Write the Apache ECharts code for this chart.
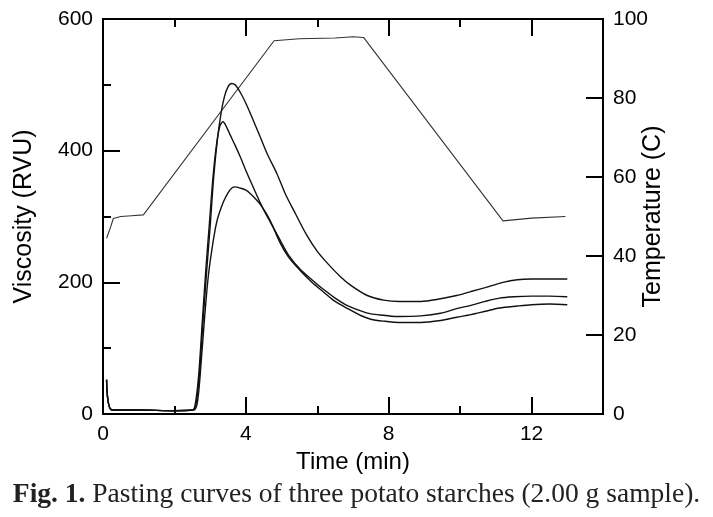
<!DOCTYPE html>
<html>
<head>
<meta charset="utf-8">
<title>Pasting curves</title>
<script src="https://cdn.jsdelivr.net/npm/echarts@6/dist/echarts.min.js"></script>
<style>
html, body { margin: 0; padding: 0; background: #fff; }
#main { width: 713px; height: 517px; }
</style>
</head>
<body>
<div id="main"></div>
<script>
// temperature profile (C), right axis
var tempTime = [0.1, 0.2, 0.29, 0.5, 0.8, 1.13, 4.79, 5.5, 6.5, 7.0, 7.3, 11.2, 12.0, 12.95];
var tempValue = [44.5, 47, 49.5, 50, 50.2, 50.4, 94.5, 95, 95.2, 95.5, 95.3, 48.9, 49.6, 50.0];

// starch A (highest peak)
var timeA = [0.1, 0.25, 1.0, 2.0, 2.5, 2.6, 2.7, 2.8, 2.9, 3.0, 3.1, 3.2, 3.3, 3.4, 3.5, 3.6, 3.7, 3.85, 4.0, 4.2, 4.4, 4.6, 4.87, 5.1, 5.4, 5.7, 6.0, 6.3, 6.64, 6.95, 7.4, 7.86, 8.3, 8.9, 9.45, 9.9, 10.3, 10.7, 11.2, 11.6, 12.0, 12.5, 13.0];
var viscA = [52, 6, 6, 5, 6, 14, 60, 140, 215, 285, 360, 415, 455, 482, 497, 502, 500, 488, 472, 447, 421, 395, 365, 335, 303, 272, 247, 228, 209, 195, 180, 173, 171, 171, 175, 180, 186, 192, 200, 204, 205, 205, 205];

// starch B (middle peak)
var timeB = [0.1, 0.25, 1.0, 2.0, 2.5, 2.58, 2.68, 2.78, 2.88, 2.98, 3.08, 3.18, 3.27, 3.36, 3.45, 3.56, 3.7, 3.84, 4.0, 4.12, 4.3, 4.5, 4.7, 4.96, 5.2, 5.52, 5.85, 6.18, 6.5, 6.83, 7.2, 7.5, 7.86, 8.3, 8.9, 9.45, 9.9, 10.3, 10.7, 11.1, 11.5, 12.0, 12.5, 13.0];
var viscB = [52, 6, 6, 5, 6, 14, 60, 140, 220, 290, 360, 410, 437, 444, 437, 424, 408, 391, 370, 355, 333, 310, 290, 264, 241, 220, 204, 189, 176, 165, 157, 152, 150, 148, 149, 153, 160, 165, 171, 176, 178, 179, 179, 178];

// starch C (lowest peak)
var timeC = [0.1, 0.25, 1.0, 2.0, 2.55, 2.65, 2.75, 2.85, 2.95, 3.09, 3.2, 3.37, 3.5, 3.6, 3.7, 3.85, 4.0, 4.12, 4.3, 4.45, 4.68, 4.96, 5.2, 5.52, 5.85, 6.18, 6.5, 6.92, 7.2, 7.5, 7.86, 8.3, 8.9, 9.45, 9.9, 10.3, 10.7, 11.1, 11.6, 12.0, 12.5, 13.0];
var viscC = [52, 6, 6, 5, 6, 20, 80, 150, 210, 264, 295, 322, 336, 343, 345, 343, 340, 335, 325, 315, 294, 260, 238, 218, 200, 185, 171, 158, 150, 144, 141, 139, 139, 142, 147, 151, 156, 161, 164, 166, 167, 166];

var xMajor = 4;
var xMinor = 2;
var captionBold = 'Fig. 1.';
var captionText = 'Pasting curves of three potato starches (2.00 g sample).';

function pairs(xs, ys) {
	return xs.map(function(x, i) {
		return [ x, ys[i] ];
	});
}

var chart = echarts.init(document.getElementById('main'));

var labelFont = {
	fontFamily : 'Liberation Sans',
	fontSize : 21,
	color : '#000'
};
var axisLine = {
	show : true,
	onZero : false,
	lineStyle : { color : '#000', width : 2 }
};

function xAxisDef(pos, interval, tickLen, withLabel) {
	return {
		type : 'value',
		position : pos,
		min : 0,
		max : 14,
		interval : interval,
		axisLine : axisLine,
		axisTick : {
			show : true,
			inside : true,
			length : tickLen,
			lineStyle : { color : '#000', width : 2 }
		},
		axisLabel : {
			show : withLabel,
			margin : 10,
			fontFamily : labelFont.fontFamily,
			fontSize : labelFont.fontSize,
			color : '#000',
			formatter : function(v) {
				return v > 12 ? '' : String(v);
			}
		},
		splitLine : { show : false }
	};
}

var xAxes = [ xAxisDef('bottom', xMajor, 17, true),
		xAxisDef('bottom', xMinor, 8, false),
		xAxisDef('top', xMajor, 17, false),
		xAxisDef('top', xMinor, 8, false) ];
xAxes[0].name = 'Time (min)';
xAxes[0].nameLocation = 'middle';
xAxes[0].nameGap = 36;
xAxes[0].nameMoveOverlap = false;
xAxes[0].nameTextStyle = {
	fontFamily : 'Liberation Sans',
	fontSize : 24,
	color : '#000'
};

var option = {
	animation : false,
	backgroundColor : '#fff',
	title : {
		text : '{b|' + captionBold + '} ' + captionText,
		left : 'center',
		top : 476,
		textStyle : {
			fontFamily : 'Liberation Serif',
			fontSize : 27.5,
			fontWeight : 'normal',
			color : '#222',
			rich : {
				b : {
					fontFamily : 'Liberation Serif',
					fontSize : 27.5,
					fontWeight : 'bold',
					color : '#222'
				}
			}
		}
	},
	grid : {
		left : 103,
		right : 110,
		top : 19,
		bottom : 103
	},
	xAxis : xAxes,
	yAxis : [ {
		type : 'value',
		position : 'left',
		min : 0,
		max : 600,
		interval : 200,
		name : 'Viscosity (RVU)',
		nameLocation : 'middle',
		nameRotate : 90,
		nameGap : 66,
		nameMoveOverlap : false,
		nameTextStyle : {
			fontFamily : 'Liberation Sans',
			fontSize : 25,
			color : '#000'
		},
		axisLine : axisLine,
		axisTick : {
			inside : true,
			length : 17,
			lineStyle : { color : '#000', width : 2 }
		},
		minorTick : {
			show : true,
			splitNumber : 2,
			length : 8,
			lineStyle : { color : '#000', width : 2 }
		},
		axisLabel : {
			margin : 10,
			fontFamily : labelFont.fontFamily,
			fontSize : labelFont.fontSize,
			color : '#000'
		},
		splitLine : { show : false },
		minorSplitLine : { show : false }
	}, {
		type : 'value',
		position : 'right',
		min : 0,
		max : 100,
		interval : 20,
		name : 'Temperature (C)',
		nameLocation : 'middle',
		nameRotate : 90,
		nameGap : 38,
		nameMoveOverlap : false,
		nameTextStyle : {
			fontFamily : 'Liberation Sans',
			fontSize : 25,
			color : '#000'
		},
		axisLine : axisLine,
		axisTick : {
			inside : true,
			length : 17,
			lineStyle : { color : '#000', width : 2 }
		},
		axisLabel : {
			margin : 10,
			fontFamily : labelFont.fontFamily,
			fontSize : labelFont.fontSize,
			color : '#000'
		},
		splitLine : { show : false }
	} ],
	series : [ {
		name : 'Temperature',
		type : 'line',
		yAxisIndex : 1,
		symbol : 'none',
		lineStyle : { color : '#333', width : 1.1 },
		data : pairs(tempTime, tempValue)
	}, {
		name : 'A',
		type : 'line',
		smooth : 0.3,
		symbol : 'none',
		lineStyle : { color : '#111', width : 1.4 },
		data : pairs(timeA, viscA)
	}, {
		name : 'B',
		type : 'line',
		smooth : 0.3,
		symbol : 'none',
		lineStyle : { color : '#111', width : 1.4 },
		data : pairs(timeB, viscB)
	}, {
		name : 'C',
		type : 'line',
		smooth : 0.3,
		symbol : 'none',
		lineStyle : { color : '#111', width : 1.4 },
		data : pairs(timeC, viscC)
	} ]
};
chart.setOption(option);
</script>
</body>
</html>
